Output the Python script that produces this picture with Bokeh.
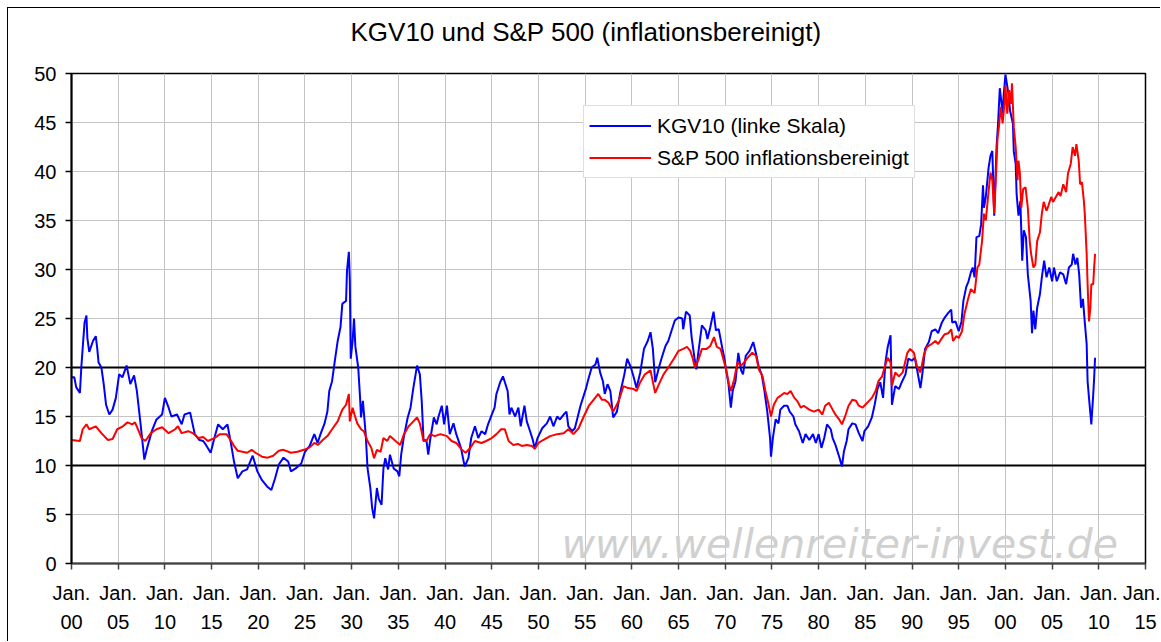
from bokeh.plotting import figure
from bokeh.models import (FixedTicker, LinearAxis, Range1d, Span, Label, Legend, LegendItem, Title)
from bokeh.embed import file_html
from bokeh.resources import INLINE

# ---------------- data ----------------
kgv_year = [
    1900.0, 1900.3, 1900.5, 1900.9, 1901.05, 1901.2, 1901.4, 1901.6, 1901.7, 1901.9,
    1902.3, 1902.6, 1902.75, 1902.9, 1903.2, 1903.45, 1903.7, 1904.05, 1904.4, 1904.75,
    1905.1, 1905.45, 1905.9, 1906.3, 1906.7, 1907.0, 1907.4, 1907.8, 1908.1, 1908.6,
    1909.1, 1909.7, 1910.0, 1910.4, 1910.7, 1911.3, 1911.8, 1912.1, 1912.7, 1913.2,
    1913.7, 1914.1, 1914.4, 1914.9, 1915.3, 1915.7, 1916.2, 1916.7, 1917.1, 1917.4,
    1917.8, 1918.3, 1918.8, 1919.4, 1919.9, 1920.4, 1921.0, 1921.4, 1921.8, 1922.2,
    1922.7, 1923.2, 1923.5, 1924.0, 1924.6, 1925.0, 1925.5, 1926.0, 1926.35, 1926.7,
    1927.1, 1927.4, 1927.6, 1927.9, 1928.2, 1928.5, 1928.8, 1929.0, 1929.4, 1929.5,
    1929.7, 1929.8, 1929.9, 1930.1, 1930.25, 1930.4, 1930.7, 1930.9, 1931.0, 1931.2,
    1931.5, 1931.7, 1932.0, 1932.2, 1932.4, 1932.7, 1932.9, 1933.2, 1933.4, 1933.6,
    1933.9, 1934.1, 1934.5, 1934.9, 1935.1, 1935.3, 1935.6, 1936.0, 1936.3, 1936.6,
    1937.0, 1937.3, 1937.5, 1937.7, 1938.0, 1938.2, 1938.4, 1938.8, 1939.1, 1939.3,
    1939.65, 1939.9, 1940.2, 1940.5, 1940.9, 1941.2, 1941.7, 1942.1, 1942.5, 1942.8,
    1943.2, 1943.55, 1943.9, 1944.3, 1944.6, 1945.0, 1945.3, 1945.5, 1945.9, 1946.2,
    1946.7, 1946.9, 1947.1, 1947.5, 1947.85, 1948.1, 1948.5, 1948.75, 1949.1, 1949.4,
    1949.6, 1949.9, 1950.4, 1950.9, 1951.25, 1951.6, 1952.0, 1952.3, 1952.7, 1953.0,
    1953.2, 1953.6, 1953.9, 1954.5, 1955.1, 1955.4, 1955.7, 1956.1, 1956.3, 1956.6,
    1956.9, 1957.1, 1957.4, 1957.7, 1958.0, 1958.4, 1958.75, 1959.2, 1959.5, 1959.9,
    1960.2, 1960.5, 1960.9, 1961.3, 1961.7, 1962.0, 1962.25, 1962.5, 1962.9, 1963.2,
    1963.6, 1963.9, 1964.3, 1964.6, 1965.0, 1965.4, 1965.5, 1965.8, 1966.2, 1966.4,
    1966.7, 1966.9, 1967.1, 1967.5, 1967.9, 1968.1, 1968.4, 1968.75, 1969.0, 1969.3,
    1969.7, 1969.9, 1970.1, 1970.35, 1970.6, 1970.8, 1971.1, 1971.4, 1971.7, 1971.9,
    1972.2, 1972.6, 1973.0, 1973.3, 1973.6, 1973.9, 1974.2, 1974.5, 1974.8, 1974.9,
    1975.1, 1975.4, 1975.7, 1975.9, 1976.3, 1976.65, 1976.9, 1977.3, 1977.5, 1977.9,
    1978.3, 1978.6, 1979.0, 1979.4, 1979.7, 1980.0, 1980.3, 1980.6, 1980.9, 1981.3,
    1981.5, 1981.8, 1982.2, 1982.5, 1982.7, 1983.0, 1983.2, 1983.6, 1983.95, 1984.3,
    1984.7, 1984.9, 1985.3, 1985.7, 1986.0, 1986.3, 1986.6, 1986.9, 1987.15, 1987.4,
    1987.7, 1987.85, 1988.2, 1988.6, 1988.9, 1989.3, 1989.6, 1990.0, 1990.3, 1990.5,
    1990.9, 1991.1, 1991.4, 1991.8, 1992.1, 1992.5, 1992.8, 1993.2, 1993.5, 1993.9,
    1994.2, 1994.3, 1994.65, 1995.0, 1995.3, 1995.5, 1995.8, 1996.05, 1996.3, 1996.5,
    1996.7, 1996.9, 1997.2, 1997.4, 1997.6, 1997.7, 1997.9, 1998.2, 1998.4, 1998.6,
    1998.8, 1999.05, 1999.2, 1999.4, 1999.7, 1999.8, 2000.0, 2000.3, 2000.5, 2000.8,
    2000.9, 2001.1, 2001.2, 2001.4, 2001.6, 2001.8, 2001.97, 2002.2, 2002.4, 2002.7,
    2002.85, 2003.0, 2003.2, 2003.4, 2003.7, 2003.9, 2004.15, 2004.4, 2004.7, 2005.0,
    2005.2, 2005.5, 2005.85, 2006.2, 2006.5, 2006.8, 2007.1, 2007.25, 2007.5, 2007.7,
    2007.9, 2008.1, 2008.3, 2008.5, 2008.7, 2008.8, 2008.95, 2009.2, 2009.4, 2009.5,
    2009.6,
]
kgv_value = [
    19.0, 19.0, 18.0, 17.4, 20.0, 22.0, 24.6, 25.3, 23.0, 21.6,
    22.7, 23.2, 22.0, 20.5, 20.0, 18.3, 16.2, 15.2, 15.7, 16.9,
    19.3, 19.0, 20.2, 18.3, 19.2, 17.6, 14.2, 10.6, 11.8, 13.5,
    14.7, 15.2, 16.9, 15.9, 15.0, 15.2, 14.2, 15.2, 15.4, 13.2,
    12.6, 12.5, 12.1, 11.3, 12.8, 14.2, 13.7, 14.2, 12.1, 10.4,
    8.7, 9.4, 9.6, 11.0, 9.4, 8.5, 7.8, 7.5, 8.7, 10.1,
    10.8, 10.4, 9.4, 9.7, 10.2, 11.4, 12.0, 13.2, 12.3, 13.3,
    14.3, 15.5, 17.6, 18.6, 20.7, 22.7, 24.1, 26.5, 26.8, 29.9,
    31.8, 28.9, 20.9, 22.7, 25.0, 22.1, 20.0, 16.9, 14.9, 16.6,
    13.2, 9.7, 7.7, 5.6, 4.6, 7.7, 6.6, 6.0, 9.7, 10.75,
    9.6, 11.1, 9.7, 9.4, 8.9, 11.1, 13.0, 14.9, 15.9, 17.9,
    20.2, 19.3, 16.6, 12.5, 12.6, 11.1, 12.6, 14.9, 14.2, 15.0,
    16.1, 14.2, 16.1, 13.2, 14.3, 13.2, 11.8, 9.9, 10.75, 12.8,
    14.0, 12.8, 13.5, 13.2, 14.2, 15.2, 15.9, 17.3, 18.5, 19.1,
    17.6, 15.2, 15.9, 15.0, 15.9, 14.0, 16.1, 14.5, 13.5, 12.6,
    11.7, 12.8, 13.8, 14.3, 15.0, 14.0, 15.0, 14.7, 15.2, 15.5,
    14.0, 13.5, 13.8, 16.1, 17.9, 19.0, 20.0, 20.3, 21.0, 19.5,
    18.6, 17.3, 18.3, 17.6, 14.9, 15.5, 17.4, 19.3, 20.9, 20.0,
    19.0, 17.9, 19.5, 21.9, 22.7, 23.6, 21.9, 18.5, 20.0, 21.0,
    22.2, 22.7, 23.9, 24.8, 25.1, 25.0, 23.9, 25.7, 25.3, 23.1,
    21.0, 19.8, 21.4, 24.3, 23.8, 22.9, 24.1, 25.7, 23.8, 23.9,
    21.9, 21.0, 19.7, 18.3, 15.9, 17.6, 18.6, 21.5, 19.7, 19.3,
    21.2, 21.7, 22.6, 21.4, 20.0, 19.3, 17.6, 15.5, 12.8, 10.9,
    12.8, 14.7, 14.3, 15.7, 16.1, 16.1, 15.5, 15.0, 14.2, 13.5,
    12.3, 13.2, 12.6, 13.2, 12.3, 13.2, 11.8, 12.8, 14.2, 13.7,
    12.8, 12.1, 10.9, 9.9, 11.4, 12.5, 13.7, 14.3, 14.2, 13.3,
    12.5, 13.5, 14.0, 14.9, 16.2, 17.8, 18.5, 16.9, 20.5, 22.1,
    23.3, 16.2, 18.1, 17.8, 18.5, 19.3, 20.9, 20.7, 21.0, 20.0,
    17.9, 19.3, 21.9, 22.6, 23.7, 23.9, 23.5, 24.6, 25.1, 25.6,
    25.9, 24.6, 24.7, 23.7, 24.7, 26.8, 28.2, 28.8, 29.7, 30.2,
    29.2, 33.3, 33.4, 34.6, 38.6, 36.3, 37.4, 40.4, 41.6, 42.1,
    35.5, 42.5, 44.7, 48.5, 45.9, 47.6, 49.9, 48.1, 46.2, 44.9,
    42.0, 40.8, 37.7, 35.5, 37.0, 30.9, 34.0, 33.3, 29.5, 26.8,
    23.5, 25.8, 23.9, 26.1, 27.5, 29.2, 30.9, 29.2, 30.2, 28.8,
    30.2, 28.8, 29.7, 29.5, 28.5, 30.2, 30.5, 31.6, 30.5, 31.2,
    29.5, 26.1, 27.0, 24.6, 22.4, 18.6, 16.9, 14.2, 17.2, 18.9,
    21.0,
]

spx_year = [
    1900.0, 1900.9, 1901.2, 1901.6, 1901.9, 1902.6, 1903.2, 1903.9, 1904.4, 1904.9,
    1905.5, 1906.0, 1906.5, 1906.8, 1907.2, 1907.5, 1907.9, 1908.5, 1909.1, 1909.7,
    1910.4, 1911.1, 1911.4, 1911.8, 1912.5, 1913.0, 1913.6, 1914.1, 1914.6, 1915.3,
    1915.9, 1916.6, 1917.1, 1917.4, 1917.8, 1918.3, 1918.8, 1919.3, 1919.7, 1920.4,
    1921.0, 1921.6, 1922.2, 1922.7, 1923.5, 1924.2, 1924.9, 1925.5, 1926.0, 1926.4,
    1926.9, 1927.4, 1927.9, 1928.5, 1929.0, 1929.4, 1929.7, 1929.8, 1930.1, 1930.3,
    1930.6, 1931.0, 1931.3, 1931.7, 1932.1, 1932.4, 1932.7, 1933.1, 1933.4, 1933.8,
    1934.1, 1934.7, 1935.2, 1935.6, 1936.1, 1936.4, 1937.0, 1937.3, 1937.7, 1938.0,
    1938.4, 1938.9, 1939.5, 1940.2, 1940.7, 1941.2, 1941.8, 1942.2, 1942.7, 1943.2,
    1943.9, 1944.4, 1945.0, 1945.5, 1946.0, 1946.4, 1946.8, 1947.3, 1947.8, 1948.2,
    1948.75, 1949.3, 1949.6, 1950.0, 1950.5, 1951.25, 1952.0, 1952.7, 1953.2, 1953.75,
    1954.3, 1954.8, 1955.4, 1955.9, 1956.4, 1956.8, 1957.1, 1957.5, 1958.0, 1958.6,
    1959.1, 1959.6, 1960.2, 1960.5, 1960.9, 1961.4, 1962.0, 1962.3, 1962.5, 1962.9,
    1963.4, 1963.9, 1964.5, 1965.0, 1965.5, 1965.9, 1966.25, 1966.5, 1966.75, 1967.1,
    1967.5, 1968.0, 1968.4, 1968.8, 1969.1, 1969.5, 1970.1, 1970.4, 1970.6, 1970.96,
    1971.3, 1971.7, 1972.0, 1972.4, 1972.9, 1973.3, 1973.6, 1974.0, 1974.3, 1974.6,
    1974.9, 1975.2, 1975.6, 1975.9, 1976.3, 1976.65, 1977.0, 1977.4, 1977.7, 1978.1,
    1978.4, 1979.0, 1979.5, 1980.0, 1980.4, 1980.7, 1981.1, 1981.5, 1981.8, 1982.2,
    1982.5, 1982.9, 1983.2, 1983.6, 1984.0, 1984.3, 1984.7, 1985.0, 1985.4, 1985.7,
    1986.1, 1986.4, 1986.8, 1987.15, 1987.4, 1987.7, 1987.85, 1988.2, 1988.6, 1989.0,
    1989.5, 1989.8, 1990.2, 1990.5, 1990.9, 1991.3, 1991.6, 1992.1, 1992.5, 1992.8,
    1993.2, 1993.5, 1993.9, 1994.2, 1994.4, 1994.75, 1995.0, 1995.35, 1995.6, 1996.0,
    1996.3, 1996.7, 1997.0, 1997.2, 1997.5, 1997.7, 1997.9, 1998.1, 1998.4, 1998.6,
    1998.8, 1999.0, 1999.15, 1999.3, 1999.5, 1999.7, 1999.9, 2000.0, 2000.2, 2000.4,
    2000.6, 2000.7, 2000.9, 2001.1, 2001.3, 2001.4, 2001.55, 2001.7, 2001.9, 2002.15,
    2002.4, 2002.6, 2002.75, 2003.0, 2003.2, 2003.4, 2003.7, 2003.9, 2004.1, 2004.4,
    2004.6, 2004.9, 2005.1, 2005.4, 2005.7, 2005.9, 2006.2, 2006.5, 2006.7, 2007.0,
    2007.2, 2007.45, 2007.6, 2007.85, 2008.0, 2008.2, 2008.4, 2008.5, 2008.7, 2008.8,
    2008.95, 2009.1, 2009.2, 2009.4, 2009.5, 2009.6,
]
spx_value = [
    12.6, 12.5, 13.7, 14.2, 13.7, 14.0, 13.3, 12.6, 12.7, 13.7,
    14.0, 14.4, 14.2, 14.4, 13.5, 12.8, 12.5, 13.3, 13.7, 13.9,
    13.3, 13.7, 14.0, 13.3, 13.5, 13.3, 12.8, 12.9, 12.5, 12.8,
    13.2, 13.2, 12.5, 12.0, 11.5, 11.4, 11.3, 11.6, 11.3, 10.9,
    10.8, 11.0, 11.5, 11.6, 11.3, 11.4, 11.6, 11.85, 12.3, 12.1,
    12.6, 13.0, 13.7, 14.5, 15.7, 16.2, 17.3, 14.5, 15.9, 15.2,
    14.3, 13.7, 13.5, 12.5, 11.8, 10.75, 11.6, 11.4, 12.8, 12.5,
    13.0, 12.5, 12.1, 13.2, 14.0, 14.3, 14.9, 14.3, 12.5, 12.5,
    13.2, 13.0, 13.2, 13.0, 12.5, 12.3, 11.6, 11.3, 11.8, 12.5,
    12.3, 12.5, 12.8, 13.2, 13.7, 13.7, 12.5, 12.1, 12.2, 12.0,
    12.1, 12.0, 11.7, 12.3, 12.6, 13.0, 13.2, 13.3, 13.7, 13.2,
    13.8, 14.9, 16.1, 16.7, 17.3, 16.7, 16.7, 16.4, 15.5, 16.6,
    18.1, 17.9, 17.8, 17.6, 18.5, 19.3, 19.7, 18.3, 17.4, 18.3,
    19.3, 20.0, 20.9, 21.7, 21.9, 22.1, 21.7, 21.0, 20.0, 20.7,
    21.9, 21.9, 22.2, 23.1, 22.1, 21.9, 19.8, 18.3, 17.6, 18.8,
    20.5, 20.2, 20.5, 21.0, 21.5, 21.2, 19.8, 19.1, 17.6, 16.4,
    15.0, 16.2, 16.9, 17.1, 17.4, 17.3, 17.6, 16.9, 16.6, 15.9,
    16.1, 15.7, 15.5, 15.7, 15.2, 16.1, 16.4, 15.7, 15.2, 14.7,
    14.2, 15.2, 16.1, 16.7, 16.6, 16.1, 15.9, 16.2, 16.6, 16.9,
    17.6, 18.6, 19.1, 20.3, 21.0, 20.5, 18.1, 19.5, 19.1, 19.5,
    21.5, 21.9, 21.5, 20.2, 19.5, 21.4, 22.1, 22.4, 22.7, 22.4,
    23.0, 23.4, 23.5, 23.9, 22.7, 23.2, 23.0, 23.7, 25.4, 27.0,
    28.0, 27.6, 30.2, 30.5, 32.9, 35.7, 35.0, 37.0, 39.9, 39.1,
    35.7, 39.8, 43.3, 44.5, 46.6, 44.9, 46.9, 48.8, 45.9, 48.3,
    46.9, 49.0, 44.5, 42.5, 39.1, 41.1, 39.8, 36.3, 38.2, 38.4,
    36.3, 32.9, 31.6, 30.2, 30.5, 32.9, 33.8, 35.7, 36.9, 36.0,
    36.5, 37.4, 36.9, 37.4, 37.9, 37.5, 38.7, 37.9, 39.8, 40.8,
    42.5, 41.6, 42.8, 41.1, 38.7, 38.9, 37.0, 35.7, 31.6, 28.5,
    24.7, 26.1, 28.5, 28.5, 30.2, 31.6,
]

tick_years = list(range(1900, 2016, 5))
tick_month = ["Jan."] * len(tick_years)
tick_yy = ["%02d" % (y % 100) for y in tick_years]
y_ticks = list(range(0, 51, 5))
ref_levels = [10, 20]

title_text = "KGV10 und S&P 500 (inflationsbereinigt)"
label_kgv = "KGV10 (linke Skala)"
label_spx = "S&P 500 inflationsbereinigt"
watermark = "www.wellenreiter-invest.de"

FONT = "Liberation Sans"

# ---------------- figure ----------------
p = figure(width=1153, height=634, output_backend="svg", toolbar_location=None,
           title=None, x_range=Range1d(1900, 2015), y_range=Range1d(0, 50),
           min_border_left=63, min_border_right=16, min_border_top=65,
           min_border_bottom=79, background_fill_color="white",
           border_fill_color="white",
           styles={"margin-left": "7px", "margin-top": "7px",
                   "border-left": "1px solid #000000", "border-top": "1px solid #000000"})

p.outline_line_color = "black"
p.outline_line_width = 1.5

# empty spacer between frame and title, then the title itself
spacer = Title(text=" ", text_font=FONT, text_font_size="9px", text_color="white")
p.add_layout(spacer, "above")
ttl = Title(text=title_text, align="left", text_font=FONT, text_font_size="26px",
            text_font_style="normal", text_color="black")
ttl.offset = 279
p.add_layout(ttl, "above")

xt = FixedTicker(ticks=tick_years, minor_ticks=[])
yt = FixedTicker(ticks=y_ticks, minor_ticks=[])

# x axis: "Jan." row with ticks
xa = p.xaxis[0]
xa.ticker = xt
xa.major_label_overrides = {y: m for y, m in zip(tick_years, tick_month)}
xa.axis_line_color = "#404040"
xa.axis_line_width = 2
xa.major_tick_line_color = "#404040"
xa.major_tick_line_width = 1.5
xa.major_tick_out = 6
xa.major_tick_in = 0
xa.minor_tick_line_color = None
xa.major_label_standoff = 12
xa.major_label_text_font = FONT
xa.major_label_text_font_size = "20px"
xa.major_label_text_color = "black"

# second row: year digits
xa2 = LinearAxis(ticker=xt)
xa2.major_label_overrides = {y: s for y, s in zip(tick_years, tick_yy)}
xa2.axis_line_color = None
xa2.major_tick_line_color = None
xa2.minor_tick_line_color = None
xa2.major_tick_out = 0
xa2.major_label_standoff = 8
xa2.major_label_text_font = FONT
xa2.major_label_text_font_size = "20px"
xa2.major_label_text_color = "black"
p.add_layout(xa2, "below")

ya = p.yaxis[0]
ya.ticker = yt
ya.axis_line_color = "black"
ya.axis_line_width = 2
ya.major_tick_line_color = "black"
ya.major_tick_line_width = 1.5
ya.major_tick_out = 6
ya.major_tick_in = 0
ya.minor_tick_line_color = None
ya.major_label_standoff = 9
ya.major_label_text_font = FONT
ya.major_label_text_font_size = "20px"
ya.major_label_text_color = "black"

p.xgrid.ticker = xt
p.ygrid.ticker = yt
p.xgrid.grid_line_color = "#c4c4c4"
p.ygrid.grid_line_color = "#c4c4c4"
p.xgrid.grid_line_width = 1
p.ygrid.grid_line_width = 1

for lv in ref_levels:
    s = Span(location=lv, dimension="width", line_color="black", line_width=2,
             level="underlay")
    p.add_layout(s)

r_kgv = p.line(kgv_year, kgv_value, line_color="#0000ff", line_width=2)
r_spx = p.line(spx_year, spx_value, line_color="#ff0000", line_width=2)

legend = Legend(items=[LegendItem(label=label_kgv, renderers=[r_kgv]),
                       LegendItem(label=label_spx, renderers=[r_spx])],
                location=(512, 385))
legend.label_text_font = FONT
legend.label_text_font_size = "21px"
legend.label_text_color = "black"
legend.padding = 5
legend.spacing = 3
legend.label_height = 29
legend.glyph_height = 29
legend.glyph_width = 62
legend.label_standoff = 6
legend.margin = 0
legend.border_line_color = "#c0c0c0"
legend.border_line_width = 1
legend.background_fill_color = "white"
legend.background_fill_alpha = 1
p.add_layout(legend)

wm = Label(x=490, y=20, x_units="screen", y_units="screen", text=watermark,
           text_font="DejaVu Sans", text_font_style="italic", text_font_size="41px",
           text_align="left", text_baseline="alphabetic", text_color="#d0d0d0")
p.add_layout(wm)

open("out.html", "w").write(file_html(p, INLINE))
